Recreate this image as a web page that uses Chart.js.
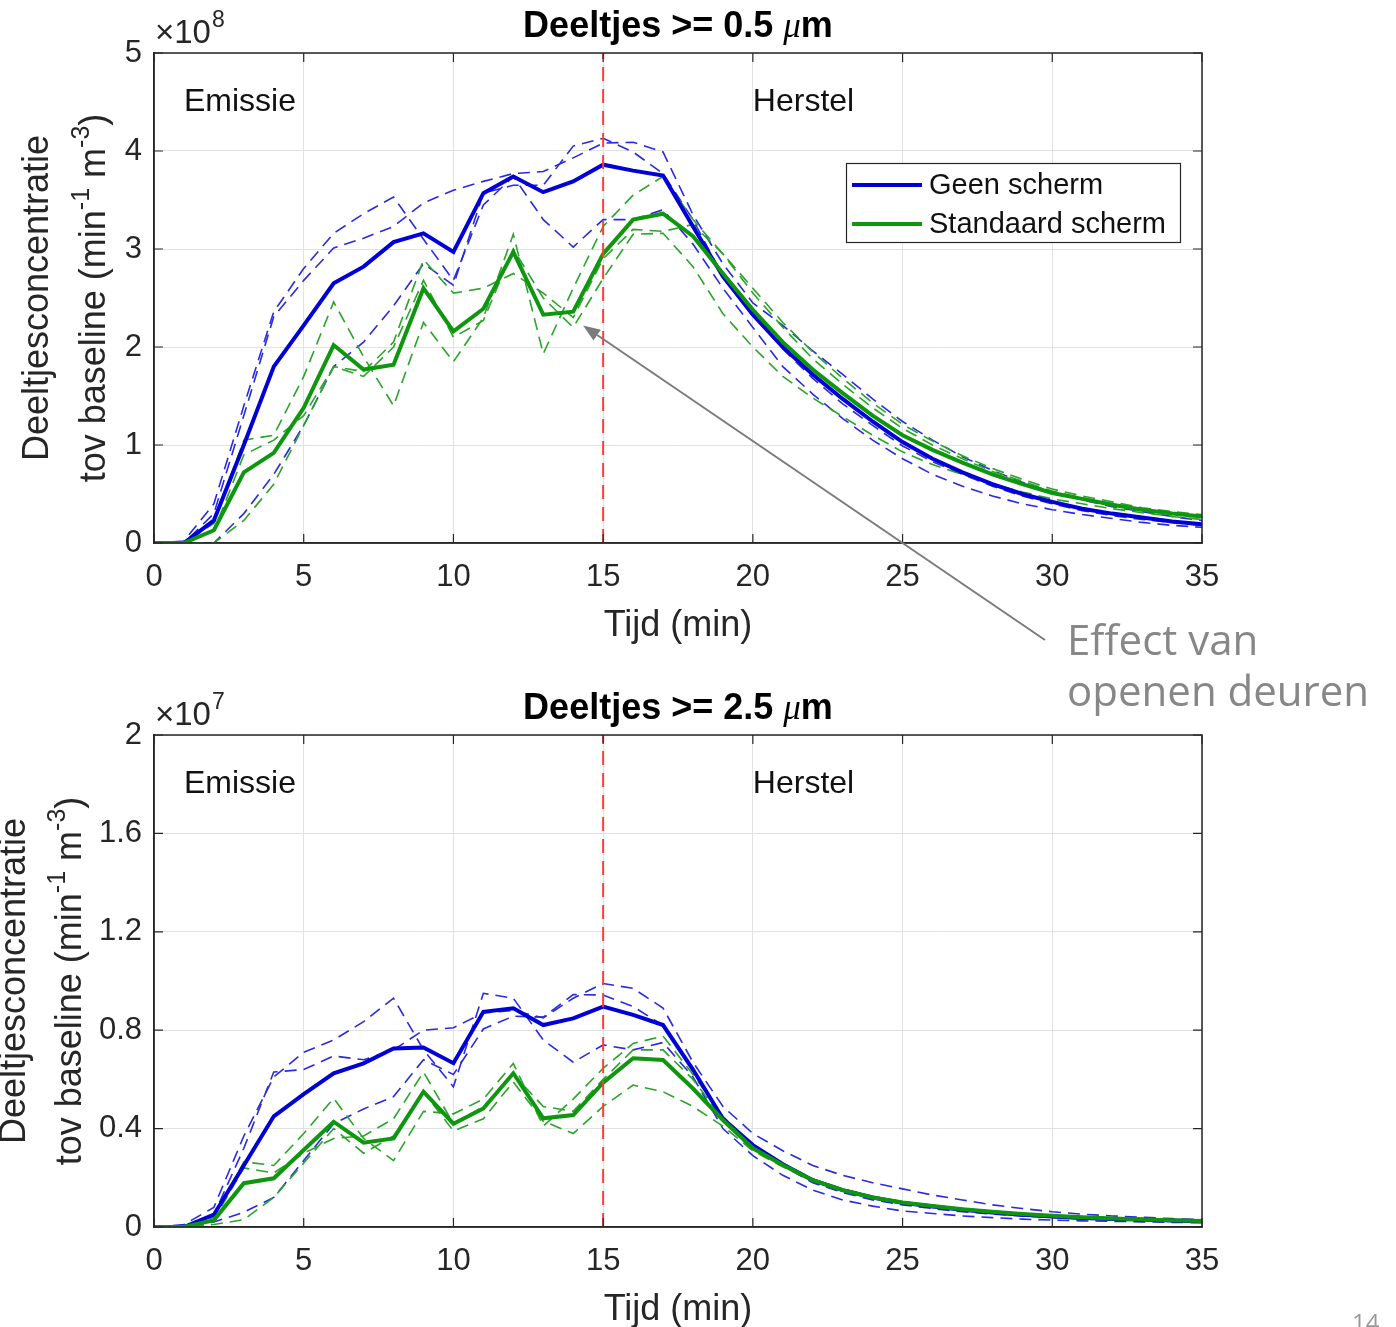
<!DOCTYPE html>
<html><head><meta charset="utf-8">
<script src="https://cdn.jsdelivr.net/npm/chart.js@4/dist/chart.umd.min.js"></script>
<style>
html,body{margin:0;padding:0;background:#fff;}
body{width:1396px;height:1327px;position:relative;overflow:hidden;}
canvas{position:absolute;left:0;}
#c1{top:0;} #c2{top:680px;}
</style></head><body>
<canvas id="c1" width="1396" height="720"></canvas>
<canvas id="c2" width="1396" height="647"></canvas>
<script>
// ---------- data ----------
const minutes = [0,1,2,3,4,5,6,7,8,9,10,11,12,13,14,15,16,17,18,19,20,21,22,23,24,25,26,27,28,29,30,31,32,33,34,35];
const xTicks = [0,5,10,15,20,25,30,35];
const topYTicks = [0,1,2,3,4,5];
const topYTickLabels = ['0','1','2','3','4','5'];
const botYTicks = [0,0.4,0.8,1.2,1.6,2];
const botYTickLabels = ['0','0.4','0.8','1.2','1.6','2'];
const seriesNames = ['Geen scherm','Standaard scherm'];
const phaseBoundary = 15;
const phaseLabels = ['Emissie','Herstel'];
const phaseLabelX = [1, 20];
const titles = ['Deeltjes >= 0.5 ', 'Deeltjes >= 2.5 '];
const exponents = ['8','7'];
const xAxisTitle = 'Tijd (min)';
const yAxisTitle1 = 'Deeltjesconcentratie';
const yAxisTitle2 = ['tov baseline (min', '-1', ' m', '-3', ')'];
const noteLines = ['Effect van', 'openen deuren'];

// Top panel (x 1e8), particles >= 0.5 um
const topBlueMean = [0,0,0.23,1.0,1.8,2.22,2.65,2.82,3.07,3.16,2.97,3.57,3.74,3.58,3.69,3.86,3.8,3.75,3.23,2.72,2.33,2.0,1.72,1.47,1.24,1.03,0.86,0.72,0.6,0.5,0.42,0.35,0.3,0.26,0.22,0.19];
const topBlueRunA = [0,0.02,0.4,1.4,2.36,2.8,3.16,3.36,3.53,3.1,2.68,3.45,3.74,3.3,3.02,3.3,3.3,3.4,3.05,2.6,2.2,1.8,1.52,1.27,1.05,0.86,0.7,0.58,0.48,0.4,0.34,0.29,0.25,0.21,0.18,0.16];
const topBlueRunB = [0,0,0.3,1.3,2.31,2.68,3.01,3.11,3.23,3.47,3.6,3.69,3.77,3.79,3.93,4.08,4.09,3.99,3.35,2.85,2.45,2.22,1.96,1.72,1.47,1.24,1.05,0.88,0.74,0.62,0.52,0.44,0.37,0.32,0.27,0.23];
const topBlueRunC = [0,0,0,0.3,0.7,1.2,1.8,2.05,2.42,2.85,2.63,3.57,3.65,3.65,4.05,4.13,3.99,3.77,3.3,2.72,2.34,1.98,1.68,1.42,1.2,0.99,0.83,0.7,0.58,0.48,0.4,0.33,0.28,0.24,0.21,0.18];
const topGreenMean = [0,0,0.13,0.72,0.92,1.38,2.02,1.77,1.82,2.6,2.16,2.39,2.97,2.33,2.36,2.95,3.3,3.36,3.13,2.75,2.38,2.05,1.77,1.53,1.3,1.1,0.95,0.82,0.7,0.6,0.51,0.45,0.39,0.34,0.3,0.27];
const topGreenRun1 = [0,0,0.2,1.05,1.1,1.7,2.46,1.9,1.4,2.25,1.85,2.3,3.15,1.93,2.6,3.23,3.55,3.74,3.3,2.95,2.6,2.25,1.95,1.68,1.43,1.21,1.04,0.89,0.76,0.65,0.55,0.48,0.42,0.36,0.32,0.29];
const topGreenRun2 = [0,0,0.12,0.9,1.05,1.3,1.8,1.75,2.05,2.89,2.55,2.6,2.75,2.55,2.3,2.9,3.2,3.18,3.25,2.95,2.55,2.2,1.88,1.62,1.38,1.17,1.0,0.86,0.73,0.63,0.53,0.46,0.4,0.35,0.31,0.28];
const topGreenRun3 = [0,0,0,0.23,0.6,1.2,1.8,1.7,2.0,2.68,2.1,2.27,3.0,2.5,2.2,2.7,3.15,3.16,2.82,2.34,2.0,1.7,1.48,1.29,1.1,0.93,0.8,0.7,0.6,0.52,0.45,0.4,0.35,0.31,0.27,0.24];

// Bottom panel (x 1e7), particles >= 2.5 um
const botBlueMean = [0,0,0.05,0.25,0.45,0.54,0.625,0.665,0.726,0.73,0.666,0.875,0.889,0.821,0.848,0.896,0.862,0.821,0.64,0.44,0.333,0.255,0.19,0.15,0.12,0.098,0.083,0.07,0.059,0.05,0.043,0.037,0.033,0.03,0.026,0.023];
const botBlueRun1 = [0,0.01,0.08,0.37,0.61,0.71,0.76,0.835,0.93,0.72,0.57,0.95,0.93,0.76,0.67,0.74,0.72,0.75,0.61,0.4,0.29,0.21,0.15,0.11,0.085,0.065,0.055,0.045,0.038,0.032,0.028,0.025,0.023,0.021,0.019,0.017];
const botBlueRun2 = [0,0,0.05,0.32,0.63,0.64,0.695,0.68,0.72,0.8,0.81,0.87,0.88,0.85,0.93,0.99,0.97,0.89,0.67,0.49,0.38,0.31,0.25,0.21,0.18,0.155,0.13,0.11,0.09,0.075,0.062,0.052,0.045,0.04,0.034,0.03];
const botBlueRun3 = [0,0,0.02,0.06,0.12,0.27,0.42,0.48,0.53,0.68,0.62,0.805,0.857,0.853,0.945,0.943,0.896,0.82,0.64,0.43,0.33,0.25,0.18,0.14,0.11,0.09,0.075,0.062,0.053,0.045,0.039,0.033,0.03,0.027,0.024,0.021];
const botGreenMean = [0,0,0.028,0.178,0.198,0.313,0.428,0.343,0.36,0.55,0.42,0.482,0.625,0.442,0.455,0.587,0.686,0.679,0.563,0.435,0.32,0.252,0.19,0.15,0.12,0.1,0.085,0.072,0.062,0.053,0.046,0.04,0.035,0.031,0.027,0.024];
const botGreenRun1 = [0,0,0.04,0.265,0.25,0.38,0.523,0.36,0.27,0.47,0.46,0.52,0.665,0.41,0.52,0.645,0.746,0.776,0.62,0.45,0.33,0.26,0.195,0.155,0.124,0.103,0.088,0.074,0.064,0.055,0.047,0.041,0.036,0.032,0.028,0.025];
const botGreenRun2 = [0,0,0.03,0.24,0.22,0.3,0.36,0.37,0.44,0.63,0.42,0.49,0.62,0.49,0.47,0.6,0.72,0.72,0.6,0.44,0.32,0.25,0.19,0.15,0.12,0.1,0.085,0.072,0.062,0.053,0.046,0.04,0.035,0.031,0.027,0.024];
const botGreenRun3 = [0,0,0.01,0.03,0.12,0.26,0.4,0.3,0.37,0.55,0.39,0.44,0.59,0.43,0.38,0.49,0.577,0.55,0.49,0.41,0.31,0.245,0.185,0.145,0.116,0.097,0.082,0.07,0.06,0.051,0.045,0.039,0.034,0.03,0.026,0.023];

// ---------- styling ----------
const FONT = '"Liberation Sans", Arial, Helvetica, sans-serif';
const BLUE = '#0000d6', BLUE_D = '#2a2ae0', GREEN = '#0e960e', GREEN_D = '#2aa42a';
const AXC = '#262626';

const pts = arr => arr.map((v, i) => ({x: minutes[i], y: v}));

function buildDatasets(blueMean, blueRuns, greenMean, greenRuns, yMax) {
  const ds = [];
  ds.push({label: 'boundary', data: [{x: phaseBoundary, y: 0}, {x: phaseBoundary, y: yMax}],
    borderColor: '#ff3c3c', borderWidth: 2, borderDash: [14, 8], order: 0});
  ds.push({label: seriesNames[1], data: pts(greenMean), borderColor: GREEN, borderWidth: 4, order: 1});
  ds.push({label: seriesNames[0], data: pts(blueMean), borderColor: BLUE, borderWidth: 4, order: 2});
  greenRuns.forEach(r => ds.push({label: '', data: pts(r), borderColor: GREEN_D, borderWidth: 1.6, borderDash: [12, 7], order: 3}));
  blueRuns.forEach(r => ds.push({label: '', data: pts(r), borderColor: BLUE_D, borderWidth: 1.6, borderDash: [12, 7], order: 4}));
  ds.forEach(d => { d.pointRadius = 0; d.fill = false; d.tension = 0; d.borderJoinStyle = 'miter'; d.borderCapStyle = 'butt'; });
  return ds;
}

const deco = {
  id: 'deco',
  afterDraw(chart, args, o) {
    const ctx = chart.ctx, a = chart.chartArea, xs = chart.scales.x, ys = chart.scales.y;
    ctx.save();
    ctx.setLineDash([]);
    // full box
    ctx.strokeStyle = AXC; ctx.lineWidth = 1.5;
    ctx.strokeRect(a.left, a.top, a.right - a.left, a.bottom - a.top);
    // inward ticks
    ctx.lineWidth = 1.2;
    ctx.beginPath();
    xTicks.forEach(v => { const p = xs.getPixelForValue(v);
      ctx.moveTo(p, a.bottom); ctx.lineTo(p, a.bottom - 9); ctx.moveTo(p, a.top); ctx.lineTo(p, a.top + 9); });
    o.yTicks.forEach(v => { const p = ys.getPixelForValue(v);
      ctx.moveTo(a.left, p); ctx.lineTo(a.left + 9, p); ctx.moveTo(a.right, p); ctx.lineTo(a.right - 9, p); });
    ctx.stroke();

    // exponent x10^n
    ctx.fillStyle = AXC; ctx.textAlign = 'left'; ctx.textBaseline = 'alphabetic';
    ctx.font = '33px ' + FONT;
    ctx.fillText('×10', a.left + 1, a.top - 10);
    const ew = ctx.measureText('×10').width;
    ctx.font = '23px ' + FONT;
    ctx.fillText(o.exponent, a.left + 2 + ew, a.top - 26);

    // title
    ctx.fillStyle = '#000';
    const parts = [['bold 36px ' + FONT, o.title], ['italic 35px "Liberation Serif", serif', 'μ'], ['bold 36px ' + FONT, 'm']];
    let tw = 0;
    parts.forEach(p => { ctx.font = p[0]; tw += ctx.measureText(p[1]).width; });
    let tx = (a.left + a.right) / 2 - tw / 2;
    parts.forEach(p => { ctx.font = p[0]; ctx.fillText(p[1], tx, a.top - 16); tx += ctx.measureText(p[1]).width; });

    // x axis title
    ctx.fillStyle = AXC; ctx.font = '36px ' + FONT; ctx.textAlign = 'center'; ctx.textBaseline = 'middle';
    ctx.fillText(xAxisTitle, (a.left + a.right) / 2, a.bottom + 83);

    // y axis title (two lines, rotated)
    const yc = (a.top + a.bottom) / 2;
    ctx.font = '36px ' + FONT;
    ctx.save(); ctx.translate(o.yLab1X, yc); ctx.rotate(-Math.PI / 2);
    ctx.fillText(yAxisTitle1, 0, 0); ctx.restore();
    const pieces = yAxisTitle2.map((t, i) => ({t, sup: i === 1 || i === 3}));
    let W = 0;
    pieces.forEach(p => { ctx.font = (p.sup ? '25px ' : '36px ') + FONT; p.w = ctx.measureText(p.t).width; W += p.w; });
    ctx.save(); ctx.translate(o.yLab2X, yc); ctx.rotate(-Math.PI / 2);
    ctx.textAlign = 'left';
    let px = -W / 2;
    pieces.forEach(p => { ctx.font = (p.sup ? '25px ' : '36px ') + FONT; ctx.fillText(p.t, px, p.sup ? -13 : 0); px += p.w; });
    ctx.restore();

    // phase labels
    ctx.fillStyle = '#111'; ctx.font = '32px ' + FONT; ctx.textAlign = 'left'; ctx.textBaseline = 'middle';
    phaseLabels.forEach((t, i) => ctx.fillText(t, xs.getPixelForValue(phaseLabelX[i]), ys.getPixelForValue(o.phaseY)));

    // legend
    if (o.legend) {
      const lx = a.right - 356, ly = a.top + 110, lw = 334, lh = 79;
      ctx.fillStyle = '#fff'; ctx.fillRect(lx, ly, lw, lh);
      ctx.strokeStyle = AXC; ctx.lineWidth = 1.2; ctx.strokeRect(lx + 0.5, ly + 0.5, lw, lh);
      const items = seriesNames.map(n => chart.data.datasets.find(d => d.label === n));
      items.forEach((d, i) => {
        const yy = ly + 22 + i * 39;
        ctx.strokeStyle = d.borderColor; ctx.lineWidth = 4;
        ctx.beginPath(); ctx.moveTo(lx + 6, yy); ctx.lineTo(lx + 76, yy); ctx.stroke();
        ctx.fillStyle = '#111'; ctx.font = '29px ' + FONT; ctx.textAlign = 'left'; ctx.textBaseline = 'middle';
        ctx.fillText(d.label, lx + 83, yy + 1);
      });
    }

    // arrow annotation
    if (o.arrow) {
      const hx = xs.getPixelForValue(o.arrow.head[0]), hy = ys.getPixelForValue(o.arrow.head[1]);
      const [tx0, ty0] = o.arrow.tail;
      const ang = Math.atan2(hy - ty0, hx - tx0);
      const L = 17, Wd = 6.5;
      const bx = hx - L * Math.cos(ang), by = hy - L * Math.sin(ang);
      ctx.strokeStyle = '#7b7b7b'; ctx.fillStyle = '#7b7b7b'; ctx.lineWidth = 2;
      ctx.beginPath(); ctx.moveTo(tx0, ty0); ctx.lineTo(bx, by); ctx.stroke();
      ctx.beginPath(); ctx.moveTo(hx, hy);
      ctx.lineTo(bx + Wd * Math.sin(ang), by - Wd * Math.cos(ang));
      ctx.lineTo(bx - Wd * Math.sin(ang), by + Wd * Math.cos(ang));
      ctx.closePath(); ctx.fill();
      ctx.fillStyle = '#878787'; ctx.font = '42px "Open Sans", sans-serif'; ctx.textAlign = 'left'; ctx.textBaseline = 'alphabetic';
      ctx.fillText(noteLines[0], 1067, 655);
      ctx.fillText(noteLines[1], 1067, 706);
    }
    if (o.pageNo) {
      ctx.fillStyle = '#9a9a9a'; ctx.font = '24px "Open Sans", sans-serif'; ctx.textAlign = 'left'; ctx.textBaseline = 'top';
      ctx.fillText(o.pageNo, 1352, 632);
    }
    ctx.restore();
  }
};

function makeChart(id, cfg) {
  return new Chart(document.getElementById(id), {
    type: 'line',
    data: {datasets: cfg.datasets},
    plugins: [deco],
    options: {
      animation: false, responsive: false, devicePixelRatio: 1,
      layout: {padding: {left: 0, top: cfg.top, right: 194, bottom: 0}},
      plugins: {legend: {display: false}, tooltip: {enabled: false}, title: {display: false},
        deco: cfg.deco},
      scales: {
        x: {type: 'linear', min: 0, max: 35,
          afterFit: s => { s.height = cfg.xAxisH; },
          afterBuildTicks: s => { s.ticks = xTicks.map(v => ({value: v})); },
          ticks: {font: {family: FONT, size: 31}, color: AXC, padding: 16, maxRotation: 0, autoSkip: false,
            callback: v => String(v)},
          grid: {color: '#e2e2e2', lineWidth: 1, drawTicks: false},
          border: {color: AXC, width: 1.5}},
        y: {type: 'linear', min: cfg.yTicks[0], max: cfg.yTicks[cfg.yTicks.length - 1],
          afterFit: s => { s.width = 154; },
          afterBuildTicks: s => { s.ticks = cfg.yTicks.map(v => ({value: v})); },
          ticks: {font: {family: FONT, size: 31}, color: AXC, padding: 12, autoSkip: false,
            callback: (v, i) => cfg.yTickLabels[i]},
          grid: {color: '#e2e2e2', lineWidth: 1, drawTicks: false},
          border: {color: AXC, width: 1.5}}
      }
    }
  });
}

makeChart('c1', {
  top: 53, xAxisH: 720 - 543, yTicks: topYTicks, yTickLabels: topYTickLabels,
  datasets: buildDatasets(topBlueMean, [topBlueRunA, topBlueRunB, topBlueRunC], topGreenMean,
    [topGreenRun1, topGreenRun2, topGreenRun3], topYTicks[topYTicks.length - 1]),
  deco: {yTicks: topYTicks, exponent: exponents[0], title: titles[0], yLab1X: 38, yLab2X: 95, phaseY: 4.5,
    legend: true, arrow: {head: [14.33, 2.22], tail: [1045, 640]}}
});
makeChart('c2', {
  top: 55, xAxisH: 647 - 547, yTicks: botYTicks, yTickLabels: botYTickLabels,
  datasets: buildDatasets(botBlueMean, [botBlueRun1, botBlueRun2, botBlueRun3], botGreenMean,
    [botGreenRun1, botGreenRun2, botGreenRun3], botYTicks[botYTicks.length - 1]),
  deco: {yTicks: botYTicks, exponent: exponents[1], title: titles[1], yLab1X: 15, yLab2X: 71, phaseY: 1.8,
    legend: false, pageNo: '14'}
});
</script>
</body></html>
